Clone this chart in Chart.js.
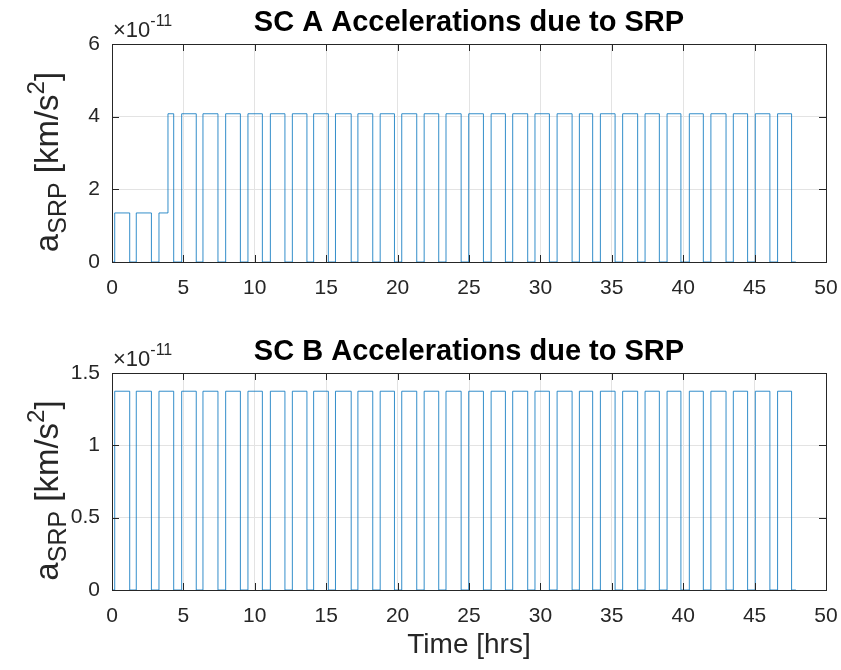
<!DOCTYPE html>
<html lang="en">
<head>
    <meta charset="UTF-8">
    <title>SRP Accelerations</title>
    <script src="https://cdn.jsdelivr.net/npm/chart.js"></script>
    <style>
        body {
            margin: 0;
            background: #ffffff;
        }
        #wrap {
            position: relative;
            width: 841px;
            height: 670px;
        }
        canvas {
            position: absolute;
            left: 0;
        }
        #chartA { top: 0; }
        #chartB { top: 330px; }
    </style>
</head>
<body>
<div id="wrap">
    <canvas id="chartA" width="841" height="330"></canvas>
    <canvas id="chartB" width="841" height="340"></canvas>
</div>

<script>
    // sunlight / eclipse edges (hrs): acceleration switches on at riseTimes, off at fallTimes
    const riseTimes = [0.19, 1.70, 3.29, 4.88, 6.37, 7.96, 9.52, 11.09, 12.63, 14.12, 15.65,
        17.22, 18.78, 20.29, 21.86, 23.39, 24.98, 26.55, 28.06, 29.62, 31.17, 32.73,
        34.20, 35.76, 37.33, 38.87, 40.43, 41.94, 43.51, 45.05, 46.61];
    const fallTimes = [1.24, 2.76, 4.32, 5.90, 7.42, 8.99, 10.53, 12.11, 13.65, 15.15, 16.75,
        18.26, 19.78, 21.34, 22.88, 24.45, 26.01, 27.55, 29.11, 30.63, 32.22, 33.66,
        35.23, 36.81, 38.33, 39.84, 41.41, 43.00, 44.51, 46.07, 47.59];
    const endTime = 47.89;

    // SC A level at the start of each sunlit arc (km/s^2), plus a change inside arc 3
    const levelA = [1.35e-11, 1.35e-11, 1.35e-11, 4.08e-11, 4.08e-11, 4.08e-11, 4.08e-11, 4.08e-11,
        4.08e-11, 4.08e-11, 4.08e-11, 4.08e-11, 4.08e-11, 4.08e-11, 4.08e-11, 4.08e-11, 4.08e-11,
        4.08e-11, 4.08e-11, 4.08e-11, 4.08e-11, 4.08e-11, 4.08e-11, 4.08e-11, 4.08e-11, 4.08e-11,
        4.08e-11, 4.08e-11, 4.08e-11, 4.08e-11, 4.08e-11];
    const extraStepsA = [[3.92, 4.08e-11]];

    // SC B level for each sunlit arc
    const levelB = [1.374e-11, 1.374e-11, 1.374e-11, 1.374e-11, 1.374e-11, 1.374e-11, 1.374e-11,
        1.374e-11, 1.374e-11, 1.374e-11, 1.374e-11, 1.374e-11, 1.374e-11, 1.374e-11, 1.374e-11,
        1.374e-11, 1.374e-11, 1.374e-11, 1.374e-11, 1.374e-11, 1.374e-11, 1.374e-11, 1.374e-11,
        1.374e-11, 1.374e-11, 1.374e-11, 1.374e-11, 1.374e-11, 1.374e-11, 1.374e-11, 1.374e-11];

    const xTicks = [0, 5, 10, 15, 20, 25, 30, 35, 40, 45, 50];
    const yTicksA = [0, 2e-11, 4e-11, 6e-11];
    const yTicksB = [0, 0.5e-11, 1e-11, 1.5e-11];

    const FONT = "'Liberation Sans', Arial, sans-serif";
    const INK = '#262626';

    function buildSteps(levels, extra) {
        const pts = [{x: 0, y: 0}];
        for (let i = 0; i < riseTimes.length; i++) {
            pts.push({x: riseTimes[i], y: levels[i]});
            pts.push({x: fallTimes[i], y: 0});
        }
        (extra || []).forEach(s => pts.push({x: s[0], y: s[1]}));
        pts.push({x: endTime, y: 0});
        pts.sort((a, b) => a.x - b.x);
        return pts;
    }

    // box, inward tick marks, exponent, title and axis labels in the MATLAB look
    const matlabAxes = {
        id: 'matlabAxes',
        afterDraw(chart, args, opts) {
            const ctx = chart.ctx;
            const a = chart.chartArea;
            const xs = chart.scales.x, ys = chart.scales.y;
            const tl = 7;
            ctx.save();
            ctx.strokeStyle = INK;
            ctx.lineWidth = 1;
            ctx.beginPath();
            xs.ticks.forEach(t => {
                const px = Math.round(xs.getPixelForValue(t.value)) + 0.5;
                ctx.moveTo(px, a.bottom); ctx.lineTo(px, a.bottom - tl);
                ctx.moveTo(px, a.top); ctx.lineTo(px, a.top + tl);
            });
            ys.ticks.forEach(t => {
                const py = Math.round(ys.getPixelForValue(t.value)) + 0.5;
                ctx.moveTo(a.left, py); ctx.lineTo(a.left + tl, py);
                ctx.moveTo(a.right, py); ctx.lineTo(a.right - tl, py);
            });
            ctx.stroke();
            ctx.strokeRect(Math.round(a.left) + 0.5, Math.round(a.top) + 0.5,
                Math.round(a.right - a.left), Math.round(a.bottom - a.top));

            ctx.fillStyle = INK;
            // exponent ×10^-11
            ctx.textAlign = 'left';
            ctx.textBaseline = 'alphabetic';
            ctx.font = '22px ' + FONT;
            ctx.fillText('\u00d710', a.left + 1, a.top - 7);
            const w10 = ctx.measureText('\u00d710').width;
            ctx.font = '16px ' + FONT;
            ctx.fillText('-11', a.left + 1 + w10, a.top - 18);

            // title
            ctx.fillStyle = '#000000';
            ctx.font = 'bold 29px ' + FONT;
            ctx.textAlign = 'center';
            ctx.fillText(opts.title, (a.left + a.right) / 2, a.top - 13);

            // y label a_SRP [km/s^2]
            ctx.fillStyle = INK;
            ctx.translate(opts.yLabelX, (a.top + a.bottom) / 2 + 9);
            ctx.rotate(-Math.PI / 2);
            const parts = [
                {t: 'a', f: '33px ', dy: 0},
                {t: 'SRP', f: '25px ', dy: 8},
                {t: ' [km/s', f: '33px ', dy: 0},
                {t: '2', f: '24px ', dy: -14},
                {t: ']', f: '33px ', dy: 0}
            ];
            let total = 0;
            parts.forEach(p => { ctx.font = p.f + FONT; p.w = ctx.measureText(p.t).width; total += p.w; });
            let cx = -total / 2;
            ctx.textAlign = 'left';
            parts.forEach(p => { ctx.font = p.f + FONT; ctx.fillText(p.t, cx, p.dy); cx += p.w; });
            ctx.restore();

            if (opts.xLabel) {
                ctx.save();
                ctx.fillStyle = INK;
                ctx.font = '28px ' + FONT;
                ctx.textAlign = 'center';
                ctx.fillText(opts.xLabel, (a.left + a.right) / 2, a.bottom + 63);
                ctx.restore();
            }
        }
    };

    function makeChart(id, data, yTicks, yMax, padTop, xHeight, opts) {
        const ctx = document.getElementById(id).getContext('2d');
        return new Chart(ctx, {
            type: 'line',
            data: {
                datasets: [{
                    data: data,
                    stepped: 'before',
                    borderColor: 'rgba(0, 114, 189, 0.8)',
                    borderWidth: 1,
                    pointRadius: 0,
                    fill: false
                }]
            },
            options: {
                responsive: false,
                animation: false,
                layout: {padding: {top: padTop, right: 15, left: 0, bottom: 0}},
                plugins: {
                    legend: {display: false},
                    tooltip: {enabled: false},
                    matlabAxes: opts
                },
                scales: {
                    x: {
                        type: 'linear',
                        min: 0,
                        max: 50,
                        afterBuildTicks: s => { s.ticks = xTicks.map(v => ({value: v})); },
                        afterFit: s => {
                            s.height = xHeight;
                            // plot edges are fixed by the layout padding, not by the end labels
                            s.paddingLeft = 0;
                            s.paddingRight = 0;
                        },
                        grid: {color: '#e3e3e3', drawTicks: false},
                        border: {display: false},
                        ticks: {
                            padding: 14,
                            maxRotation: 0,
                            color: INK,
                            font: {family: FONT, size: 21},
                            callback: v => String(v)
                        }
                    },
                    y: {
                        min: 0,
                        max: yMax,
                        afterBuildTicks: s => { s.ticks = yTicks.map(v => ({value: v})); },
                        afterFit: s => { s.width = 112; },
                        grid: {color: '#e3e3e3', drawTicks: false},
                        border: {display: false},
                        ticks: {
                            padding: 12,
                            color: INK,
                            font: {family: FONT, size: 21},
                            callback: v => String(Number((v / 1e-11).toPrecision(3)))
                        }
                    }
                }
            },
            plugins: [matlabAxes]
        });
    }

    makeChart('chartA', buildSteps(levelA, extraStepsA), yTicksA, 6e-11, 44, 68,
        {title: 'SC A Accelerations due to SRP', yLabelX: 58});
    makeChart('chartB', buildSteps(levelB), yTicksB, 1.5e-11, 43, 80,
        {title: 'SC B Accelerations due to SRP', yLabelX: 58, xLabel: 'Time [hrs]'});
</script>
</body>
</html>
